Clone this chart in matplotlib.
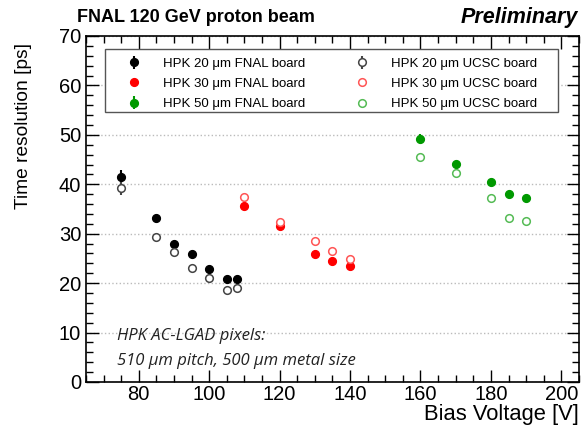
import matplotlib.pyplot as plt
from matplotlib.patches import Rectangle
from matplotlib.ticker import MultipleLocator

# HPK 20 um
v20 = [75, 85, 90, 95, 100, 105, 108]
fnal20 = [41.4, 33.2, 28.0, 25.8, 22.9, 20.9, 20.8]
ucsc20 = [39.3, 29.4, 26.4, 23.1, 21.0, 18.7, 19.1]
err20_fnal = [1.4, 0.5, 0.4, 0.4, 0.4, 0.4, 0.4]
err20_ucsc = [1.4, 0.5, 0.4, 0.4, 0.4, 0.4, 0.4]

# HPK 30 um
v30 = [110, 120, 130, 135, 140]
fnal30 = [35.6, 31.6, 25.8, 24.5, 23.5]
ucsc30 = [37.4, 32.4, 28.5, 26.6, 24.9]

# HPK 50 um
v50 = [160, 170, 180, 185, 190]
fnal50 = [49.2, 44.1, 40.4, 38.0, 37.2]
ucsc50 = [45.5, 42.2, 37.2, 33.1, 32.6]
err50_fnal = [0.9, 0.5, 0.4, 0.4, 0.4]

plt.rcParams['font.family'] = ['Liberation Sans', 'DejaVu Sans']

fig = plt.figure(figsize=(5.83, 4.25), dpi=100)
ax = fig.add_axes([0.1475, 0.1012, 0.8455, 0.8141])

ms = 5.5
series = [
    (v20, fnal20, err20_fnal, '#000000', True, 'HPK 20 \u03bcm FNAL board'),
    (v30, fnal30, None, '#ff0000', True, 'HPK 30 \u03bcm FNAL board'),
    (v50, fnal50, err50_fnal, '#009900', True, 'HPK 50 \u03bcm FNAL board'),
    (v20, ucsc20, err20_ucsc, '#444444', False, 'HPK 20 \u03bcm UCSC board'),
    (v30, ucsc30, None, '#ff5555', False, 'HPK 30 \u03bcm UCSC board'),
    (v50, ucsc50, None, '#55bb55', False, 'HPK 50 \u03bcm UCSC board'),
]
handles = []
for x, y, e, c, filled, lab in series:
    h = ax.errorbar(x, y, yerr=e, fmt='o', ms=ms, color=c,
                    mfc=c if filled else 'white', mec=c, mew=1.1,
                    elinewidth=1.5, capsize=0, label=lab, zorder=3)
    handles.append(h)

ax.set_xlim(65, 205)
ax.set_ylim(0, 70)
ax.xaxis.set_major_locator(MultipleLocator(20))
ax.xaxis.set_minor_locator(MultipleLocator(5))
ax.yaxis.set_major_locator(MultipleLocator(10))
ax.yaxis.set_minor_locator(MultipleLocator(2))
ax.tick_params(which='both', direction='in', top=True, right=True,
               labeltop=False, labelright=False, width=1)
ax.tick_params(which='major', length=9, labelsize=14.5)
ax.tick_params(which='minor', length=5)
ax.tick_params(axis='x', which='major', pad=2)
for s in ax.spines.values():
    s.set_linewidth(1.2)
ax.yaxis.grid(True, which='major', linestyle=':', color='#bbbbbb', linewidth=1)
ax.set_axisbelow(True)

ax.set_xlabel('Bias Voltage [V]', fontsize=15.8, loc='right', labelpad=0)
ax.set_ylabel('Time resolution [ps]', fontsize=13.8, y=0.98, ha='right', labelpad=19)

fig.text(0.132, 0.958, 'FNAL 120 GeV proton beam', fontsize=13, fontweight='bold',
         va='center', ha='left')
fig.text(0.992, 0.958, 'Preliminary', fontsize=15.5, fontweight='bold',
         style='italic', va='center', ha='right')

# legend box drawn separately so it can span like the original
ax.add_patch(Rectangle((0.0385, 0.7813), 0.9185, 0.1803, transform=ax.transAxes,
                       fill=True, facecolor='white', edgecolor='#555555',
                       linewidth=1.0, zorder=4))
leg = ax.legend(handles=handles, ncol=2, loc='upper left',
                bbox_to_anchor=(0.0527, 0.9376), frameon=False,
                fontsize=9.5, handlelength=3.3, handletextpad=0.55,
                borderpad=0, labelspacing=0.6, columnspacing=2.65,
                borderaxespad=0)
leg.set_zorder(5)

ax.text(0.063, 0.121, 'HPK AC-LGAD pixels:', transform=ax.transAxes,
        fontsize=12, style='italic', family=['Open Sans', 'DejaVu Sans'],
        color='#222222', va='baseline')
ax.text(0.063, 0.049, '510 \u03bcm pitch, 500 \u03bcm metal size', transform=ax.transAxes,
        fontsize=12, style='italic', family=['Open Sans', 'DejaVu Sans'],
        color='#222222', va='baseline')

fig.savefig('out.png', dpi=100)
